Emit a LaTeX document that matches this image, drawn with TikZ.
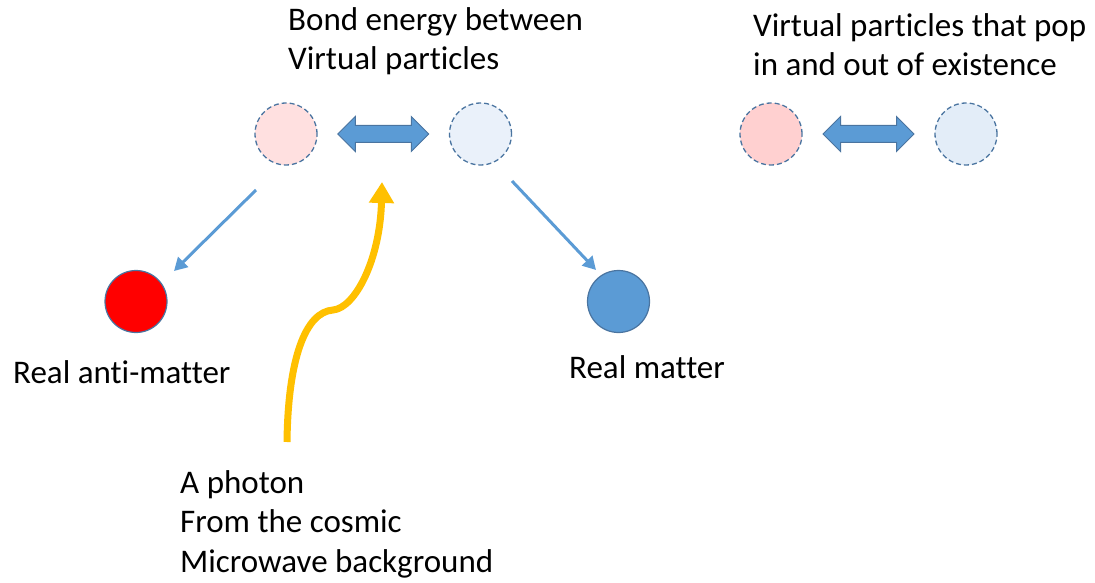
\documentclass[tikz,border=0pt]{standalone}
\usepackage{xcolor}
\usepackage{fontspec}
\setmainfont{Carlito}[Ligatures={NoCommon}]
\usepackage{tikz}
\usetikzlibrary{shapes.arrows,arrows.meta,calc}

\definecolor{edgeblue}{HTML}{4A74A0}
\definecolor{arrowblue}{HTML}{5B9BD5}
\definecolor{pinkA}{HTML}{FFE0E0}
\definecolor{pinkB}{HTML}{FFD0D0}
\definecolor{iceA}{HTML}{EAF1FA}
\definecolor{iceB}{HTML}{E3EDF8}
\definecolor{photon}{HTML}{FFC000}

\tikzset{
  virtual/.style={circle, minimum size=62, inner sep=0, draw=edgeblue, line width=1.3, dash pattern=on 5 off 3},
  real/.style={circle, minimum size=62, inner sep=0, draw=edgeblue, line width=1.2},
  bondarrow/.style={double arrow, fill=arrowblue, draw=edgeblue, line width=1, minimum height=91, inner xsep=0, inner ysep=8, double arrow head extend=9},
  decay/.style={draw=arrowblue, line width=3, -{Triangle[length=13,width=14]}},
  label/.style={anchor=base west, inner sep=0, align=left, font=\fontsize{33}{39.5}\selectfont}
}

\begin{document}
\begin{tikzpicture}[x=1pt, y=-1pt]
  \useasboundingbox (0,0) rectangle (1095,583);

  % Virtual pair with bond energy
  \node[virtual, fill=pinkA] (pinkL) at (286,134) {};
  \node[virtual, fill=iceA] (iceL) at (480.5,134) {};
  \node[bondarrow] (bondL) at ($(pinkL)!0.5!(iceL)$) {};
  \node[label] (bondtext) at (288,70) {Bond energy between\\Virtual particles};

  % Virtual pair popping in and out
  \node[virtual, fill=pinkB] (pinkR) at (771,134) {};
  \node[virtual, fill=iceB] (iceR) at (966,134) {};
  \node[bondarrow] (bondR) at ($(pinkR)!0.5!(iceR)$) {};
  \node[label] (poptext) at (753,76) {Virtual particles that pop\\in and out of existence};

  % Real particles
  \node[real, fill=red] (anti) at (136,301.5) {};
  \node[real, fill=arrowblue] (matter) at (618.5,301.5) {};
  \node[label] (antitext) at (13,383) {Real anti-matter};
  \node[label] (mattertext) at (569,378) {Real matter};

  % Decay arrows
  \coordinate (antiFrom) at (256,190);
  \coordinate (antiTo) at (174,271);
  \coordinate (matterFrom) at (512,181);
  \coordinate (matterTo) at (596,270);
  \draw[decay] (antiFrom) -- (antiTo);
  \draw[decay] (matterFrom) -- (matterTo);

  % Photon
  \coordinate (photonFrom) at (287,442);
  \coordinate (photonKink) at (333,310);
  \coordinate (photonTo) at (382,182);
  \draw[photon, line width=7, -{Triangle[length=21,width=24]}]
    (photonFrom) .. controls (288,360) and (305,312) .. (photonKink)
    .. controls (355,308) and (380,260) .. (photonTo);
  \node[label] (photontext) at (180,572) {A photon\\From the cosmic\\Microwave background};
\end{tikzpicture}
\end{document}
